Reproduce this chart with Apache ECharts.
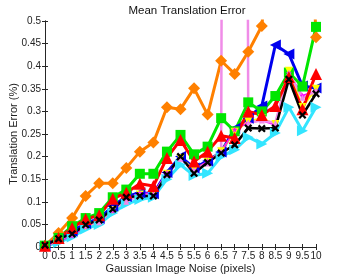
<!DOCTYPE html>
<html><head><meta charset="utf-8">
<script src="https://cdn.jsdelivr.net/npm/echarts@6/dist/echarts.min.js"></script>
<style>html,body{margin:0;padding:0;background:#fff}#c{width:349px;height:279px}</style>
</head><body><div id="c"></div>
<script>
var noise = [0,0.5,1,1.5,2,2.5,3,3.5,4,4.5,5,5.5,6,6.5,7,7.5,8,8.5,9,9.5,10];
var orangeDiamond = [0.003,0.031,0.064,0.113,0.141,0.141,0.175,0.211,0.231,0.309,0.305,0.351,0.293,0.412,0.383,0.432,0.489,0.8,1.0,1.2,0.464];
var greenSquare = [0.003,0.02,0.046,0.064,0.075,0.11,0.127,0.162,0.162,0.211,0.248,0.205,0.222,0.285,0.256,0.32,0.30,0.334,0.386,0.355,0.487];
var redTriangle = [0.003,0.02,0.042,0.062,0.07,0.107,0.12,0.14,0.135,0.197,0.237,0.189,0.211,0.246,0.241,0.30,0.292,0.312,0.376,0.305,0.383];
var blueLeft = [0.003,0.018,0.035,0.052,0.063,0.09,0.112,0.12,0.118,0.165,0.2,0.175,0.19,0.21,0.262,0.285,0.312,0.447,0.427,0.356,0.352];
var cyanRight = [0.002,0.01,0.022,0.04,0.05,0.075,0.095,0.105,0.11,0.15,0.182,0.158,0.163,0.2,0.215,0.243,0.228,0.252,0.309,0.257,0.309];
var yellowTri = [0.002,0.014,0.028,0.046,0.056,0.082,0.102,0.116,0.116,0.162,0.197,0.172,0.188,0.212,0.255,0.278,0.285,0.272,0.39,0.31,0.35];
var magentaStar = [0.002,0.012,0.025,0.045,0.058,0.08,0.105,0.12,0.118,0.165,0.195,0.17,0.19,0.21,0.26,0.275,0.28,0.27,0.385,0.335,0.345];
var violetLine = [0.002,0.015,0.03,0.048,0.055,0.085,0.1,0.115,0.115,0.16,0.195,0.17,0.185,0.21,10,0.275,0.28,0.275,0.385,0.33,0.345];
var blackX = [0.004,0.018,0.029,0.049,0.06,0.084,0.11,0.113,0.113,0.16,0.2,0.163,0.187,0.208,0.226,0.263,0.262,0.263,0.371,0.292,0.339];

function pts(a){ return noise.map(function(x,i){ return [x,a[i]]; }); }
var xPath = 'path://M2,0L5,3L8,0L10,2L7,5L10,8L8,10L5,7L2,10L0,8L3,5L0,2Z';
var starPath = 'path://M5,0L6.2,3.5L10,3.6L7,5.9L8.1,9.5L5,7.4L1.9,9.5L3,5.9L0,3.6L3.8,3.5Z';

function ser(name, data, color, symbol, size, rot, lw){
  return {name:name, type:'line', data:pts(data), clip:true, symbol:symbol, symbolSize:size,
    symbolRotate:rot||0, showSymbol:true, animation:false,
    lineStyle:{color:color,width:lw}, itemStyle:{color:color}, emphasis:{disabled:true}};
}

var chart = echarts.init(document.getElementById('c'));
var axisCol = '#262626';
chart.setOption({
  animation:false,
  title:{text:'Mean Translation Error', left:182, top:0, textAlign:'center',
    textStyle:{fontFamily:'Liberation Sans, Arial', fontSize:11.5, fontWeight:'normal', color:'#111'}},
  grid:{left:45, right:33, top:21, bottom:32, containLabel:false, outerBoundsMode:'none'},
  xAxis:[{type:'value', min:0, max:10, interval:0.5, position:'bottom',
    name:'Gaussian Image Noise (pixels)', nameLocation:'middle', nameGap:16, nameMoveOverlap:false,
    nameTextStyle:{fontFamily:'Liberation Sans, Arial', fontSize:11, color:'#222'},
    axisLine:{show:true, lineStyle:{color:axisCol, width:1}},
    axisTick:{inside:true, length:3, lineStyle:{color:axisCol}},
    axisLabel:{fontFamily:'Liberation Sans, Arial', fontSize:10, color:'#222', margin:4, showMinLabel:true, showMaxLabel:true, hideOverlap:false},
    splitLine:{show:false}},
   {type:'value', min:0, max:10, interval:0.5, position:'top',
    axisLine:{show:true, lineStyle:{color:axisCol, width:1}},
    axisTick:{inside:true, length:3, lineStyle:{color:axisCol}},
    axisLabel:{show:false}, splitLine:{show:false}}],
  yAxis:[{type:'value', min:0, max:0.5, interval:0.05, position:'left',
    name:'Translation Error (%)', nameLocation:'middle', nameGap:26, nameMoveOverlap:false,
    nameTextStyle:{fontFamily:'Liberation Sans, Arial', fontSize:11, color:'#222'},
    axisLine:{show:true, lineStyle:{color:axisCol, width:1}},
    axisTick:{inside:true, length:3, lineStyle:{color:axisCol}},
    axisLabel:{fontFamily:'Liberation Sans, Arial', fontSize:10, color:'#222', margin:4,
      formatter:function(v){ return String(Math.round(v*100)/100); }},
    splitLine:{show:false}},
   {type:'value', min:0, max:0.5, interval:0.05, position:'right',
    axisLine:{show:true, lineStyle:{color:axisCol, width:1}},
    axisTick:{inside:true, length:3, lineStyle:{color:axisCol}},
    axisLabel:{show:false}, splitLine:{show:false}}],
  series:[
    ser('orange', orangeDiamond, '#ff8000', 'diamond', 12, 0, 3),
    ser('cyan', cyanRight, '#33e5ff', 'triangle', 11, -90, 3),
    ser('blue', blueLeft, '#0000ee', 'triangle', 11, 90, 3),
    ser('green', greenSquare, '#00e600', 'rect', 10, 0, 3),
    ser('yellow', yellowTri, '#ffff00', 'triangle', 8, 180, 2),
    ser('magenta', magentaStar, '#ff00ff', starPath, 6, 0, 1.5),
    ser('violet', violetLine, '#f08ce8', 'triangle', 6, 0, 2.5),
    ser('red', redTriangle, '#ff0000', 'triangle', 12, 0, 3),
    ser('black', blackX, '#000000', xPath, 8, 0, 2.5)
  ]
});
</script></body></html>
